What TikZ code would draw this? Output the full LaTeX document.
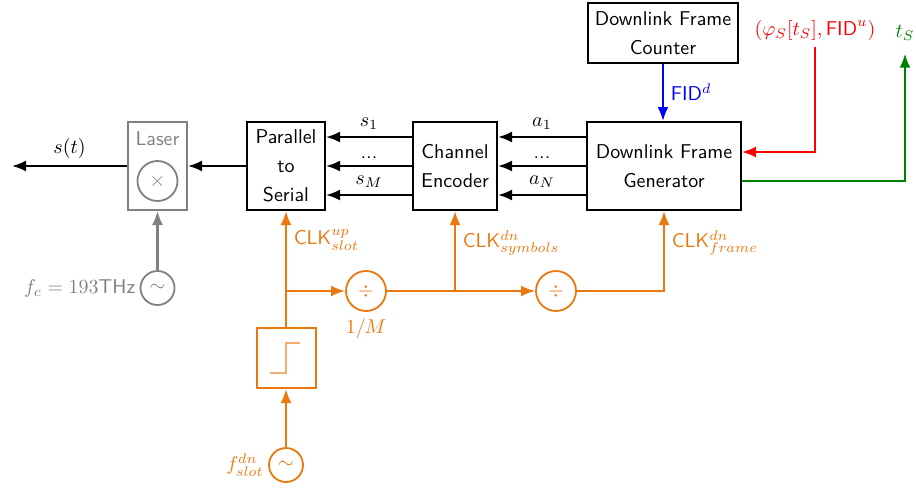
\documentclass[tikz,border=0pt]{standalone}
\usepackage{amsmath}
\usepackage{amssymb}
\usepackage{xcolor}
\usetikzlibrary{arrows.meta}
\renewcommand{\familydefault}{\sfdefault}
\definecolor{clkorange}{RGB}{235,120,15}
\definecolor{lasergray}{RGB}{128,128,128}
\definecolor{tsgreen}{RGB}{0,128,0}

\begin{document}
\begin{tikzpicture}[x=0.5pt,y=-0.5pt,>={Latex[length=7pt,width=5.5pt]},
		block/.style={draw,line width=1pt,align=center,inner sep=0pt},
		wire/.style={line width=1.1pt},
		op/.style={circle,draw,line width=0.9pt,inner sep=0pt,minimum size=20pt},
		osc/.style={circle,draw,line width=0.9pt,inner sep=0pt,minimum size=17pt}]
		\useasboundingbox (0,0) rectangle (916,488);
		\node[block,minimum width=75pt,minimum height=30pt] (counter) at (663,33) {Downlink Frame\\[2.5pt]Counter};
		\node[block,minimum width=77pt,minimum height=44pt] (gen) at (664,166) {Downlink Frame\\[2.5pt]Generator};
		\node[block,minimum width=42pt,minimum height=44pt] (enc) at (455,166) {Channel\\[2.5pt]Encoder};
		\node[block,minimum width=39pt,minimum height=44pt] (p2s) at (286,166) {Parallel\\[2.5pt]to\\[2.5pt]Serial};
		\node[block,draw=lasergray,minimum width=29.5pt,minimum height=44pt] (laser) at (157.5,166) {};
		\node[text=lasergray,anchor=north,inner sep=0pt] at ([yshift=-5pt]laser.north) {Laser};
		\node[op,draw=lasergray,text=lasergray] (mix) at (157.5,181) {$\times$};
		\node[osc,draw=lasergray,text=lasergray] (carrier) at (157.5,288) {$\sim$};
		\node[text=lasergray,anchor=east,inner sep=2pt] at (carrier.west) {$f_c=193$THz};
		\coordinate (out) at (12,166);
		\draw[wire,->] (p2s) -- (laser);
		\draw[wire,->] (laser) -- (out) node[midway,above] {$s(t)$};
		\draw[wire,lasergray,->] (carrier) -- (laser);
		\draw[wire,->] ([yshift=14.5pt]enc.west) -- ([yshift=14.5pt]p2s.east) node[midway,above] {$s_1$};
		\draw[wire,->] (enc.west) -- (p2s.east) node[midway,above] {...};
		\draw[wire,->] ([yshift=-14.5pt]enc.west) -- ([yshift=-14.5pt]p2s.east) node[midway,above] {$s_M$};
		\draw[wire,->] ([yshift=14.5pt]gen.west) -- ([yshift=14.5pt]enc.east) node[midway,above] {$a_1$};
		\draw[wire,->] (gen.west) -- (enc.east) node[midway,above] {...};
		\draw[wire,->] ([yshift=-14.5pt]gen.west) -- ([yshift=-14.5pt]enc.east) node[midway,above] {$a_N$};
		\draw[wire,blue,->] (counter.south) -- (counter.south |- gen.north) node[midway,right,text=blue] {FID$^d$};
		\node[text=red] (fidu) at (815,30) {$(\varphi_S[t_S],\text{FID}^u)$};
		\node[text=tsgreen] (ts) at (905,33) {$t_S$};
		\draw[wire,red,->] (fidu.south) |- ([yshift=7pt]gen.east);
		\draw[wire,tsgreen,->] ([yshift=-7.5pt]gen.east) -| ([yshift=-3pt]ts.south);
		\node[block,draw=clkorange,minimum width=29.5pt,minimum height=30pt] (step) at (286,358) {};
		\draw[clkorange!60,line width=0.8pt] ([xshift=-8pt,yshift=-7.5pt]step.center) -- ++(8pt,0) -- ++(0,15pt) -- ++(7pt,0);
		\node[osc,draw=clkorange,text=clkorange] (slotosc) at (286,465) {$\sim$};
		\node[text=clkorange,anchor=east,inner sep=2pt] at (slotosc.west) {$f^{dn}_{slot}$};
		\node[op,draw=clkorange,text=clkorange] (div1) at (366,291) {$\div$};
		\node[op,draw=clkorange,text=clkorange] (div2) at (556,291) {$\div$};
		\node[text=clkorange,below] at (div1.south) {$1/M$};
		\coordinate (split1) at (286,291);
		\coordinate (split2) at (455,291);
		\draw[wire,clkorange,->] (slotosc) -- (step);
		\draw[wire,clkorange,->] (step.north) -- (p2s.south) node[pos=0.75,anchor=west,text=clkorange] {CLK$^{up}_{slot}$};
		\draw[wire,clkorange,->] (split1) -- (div1);
		\draw[wire,clkorange] (div1) -- (split2);
		\draw[wire,clkorange,->] (split2) -- (enc.south) node[pos=0.6,anchor=west,text=clkorange] {CLK$^{dn}_{symbols}$};
		\draw[wire,clkorange,->] (split2) -- (div2);
		\draw[wire,clkorange,->] (div2) -| (gen.south) node[pos=0.8,anchor=west,text=clkorange] {CLK$^{dn}_{frame}$};
	\end{tikzpicture}
\end{document}
